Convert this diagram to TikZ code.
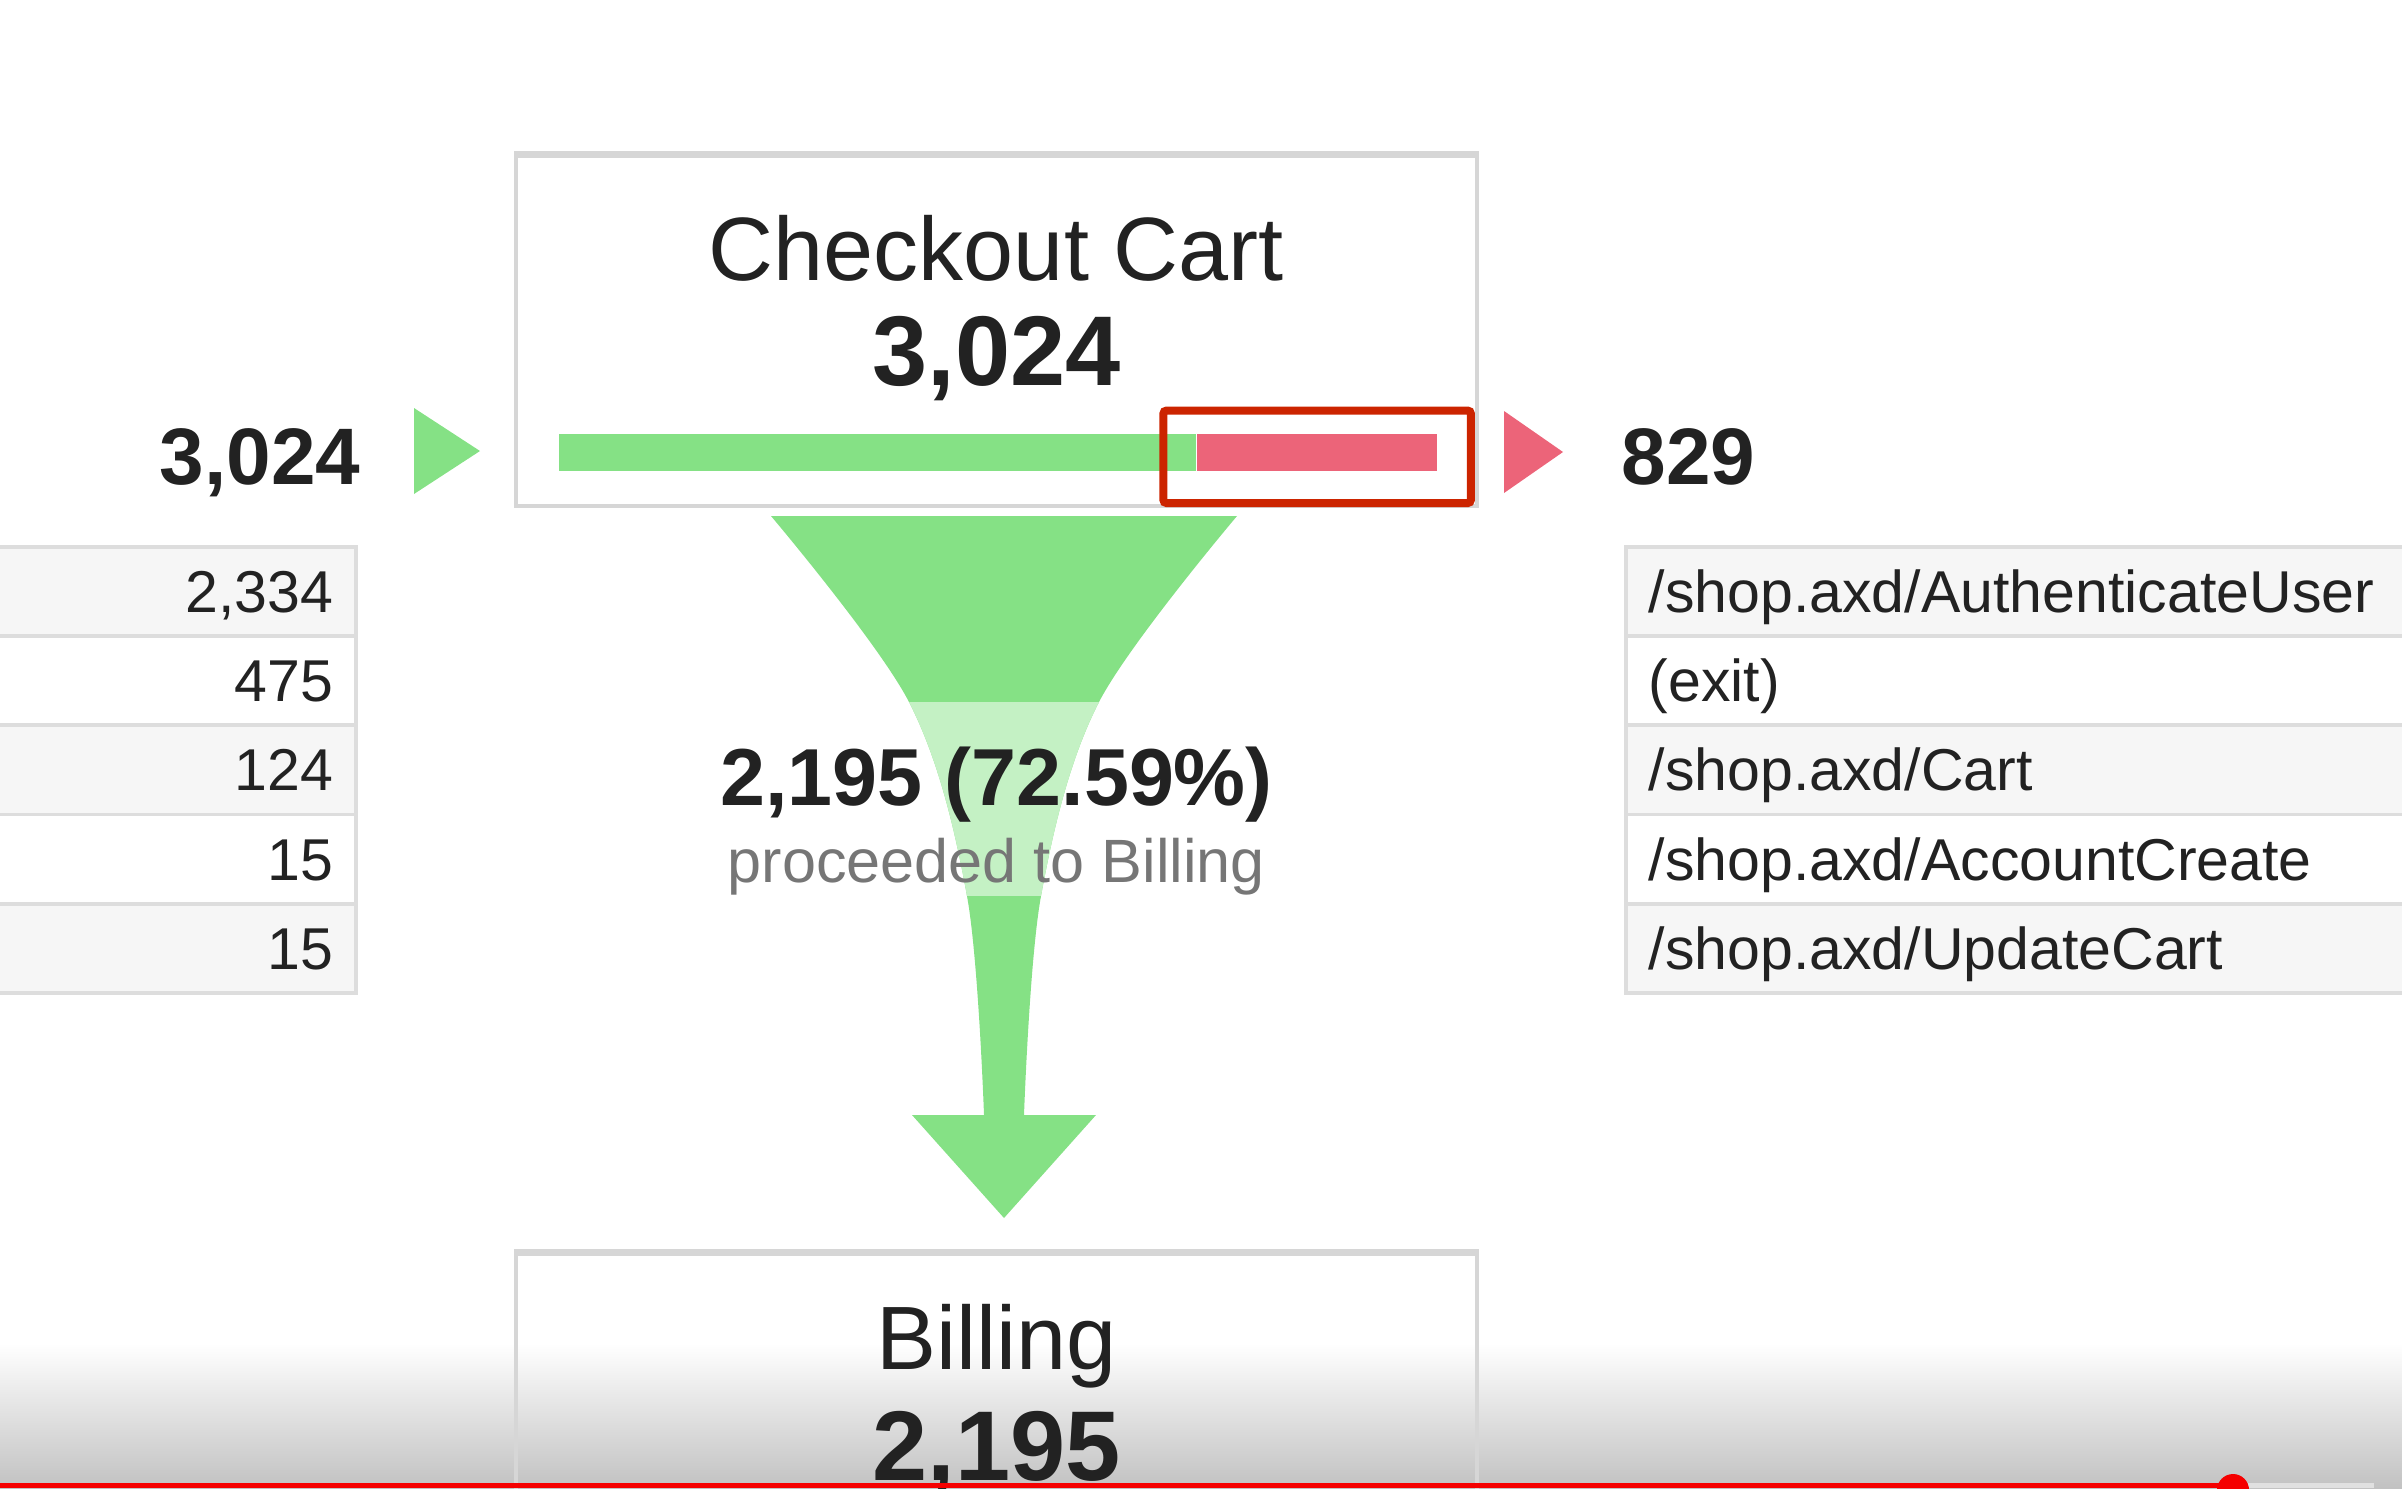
\documentclass[tikz,border=0pt]{standalone}
\usepackage{fontspec}
\setmainfont{Liberation Sans}
\usepackage{tikz}
\usetikzlibrary{calc}
\usetikzlibrary{positioning}

\definecolor{fgreen}{RGB}{133,225,133}
\definecolor{fgreenl}{RGB}{196,241,196}
\definecolor{fred}{RGB}{236,100,121}
\definecolor{hlred}{RGB}{204,36,0}
\definecolor{boxgray}{RGB}{214,214,214}
\definecolor{linegray}{RGB}{221,221,221}
\definecolor{rowgray}{RGB}{246,246,246}
\definecolor{txtdark}{RGB}{34,34,34}
\definecolor{txtgray}{RGB}{118,118,118}
\definecolor{ytred}{RGB}{245,0,0}

\begin{document}
\begin{tikzpicture}[
  boxn/.style={draw=boxgray, line width=1pt, inner sep=0pt},
  barn/.style={minimum height=0.37cm, inner sep=0pt, anchor=south west},
  rown/.style={draw=linegray, line width=1.1pt, minimum height=0.892cm, inner sep=0pt},
  celln/.style={text=txtdark, font=\fontsize{16.8}{20}\selectfont, inner sep=0pt},
  bign/.style={text=txtdark, font=\fontsize{22.8}{26}\selectfont\bfseries, inner sep=0pt},
  titlen/.style={text=txtdark, font=\fontsize{25.6}{30}\selectfont, inner sep=0pt, anchor=base},
  countn/.style={text=txtdark, font=\fontsize{28.2}{32}\selectfont\bfseries, inner sep=0pt, anchor=base}]

  \useasboundingbox (0,0) rectangle (24.02,14.88);
  % player shade at the bottom
  \shade[top color=white, bottom color=black!24] (0,0) rectangle (24.02,1.45);

  % the two steps
  \node[boxn, minimum width=9.61cm, minimum height=3.50cm] (cart) at (9.965,11.57) {};
  \node[boxn, minimum width=9.61cm, minimum height=3.0cm, anchor=north] (billing) at (9.965,2.36) {};
  \draw[boxgray, line width=2pt] (cart.north west) -- (cart.north east);
  \draw[boxgray, line width=2pt] (billing.north west) -- (billing.north east);
  \node[titlen] (cartt) at (9.965,12.08) {Checkout Cart};
  \node[countn] (cartn) at (9.965,11.03) {3,024};
  \node[titlen] (billt) at (9.965,1.19) {Billing};
  \node[countn] (billn) at (9.965,0.08) {2,195};

  % in / out bar
  \node[barn, fill=fgreen, minimum width=6.37cm] (gbar) at (5.58,10.16) {};
  \node[barn, fill=fred, minimum width=2.40cm, right=0pt of gbar] (rbar) {};
  \draw[hlred, line width=0.08cm, rounded corners=0.03cm]
    ($(rbar.south west)+(-0.33,-0.31)$) rectangle ($(rbar.north east)+(0.33,0.23)$);

  \fill[fgreen] (4.14,10.80) -- (4.80,10.37) -- (4.14,9.94) -- cycle;
  \fill[fred] (15.04,10.77) -- (15.63,10.36) -- (15.04,9.95) -- cycle;
  \node[bign, anchor=base east] (inn) at (3.61,10.04) {3,024};
  \node[bign, anchor=base west] (outn) at (16.21,10.04) {829};

  % entrances and exits
  \foreach \v [count=\i] in {{2,334},475,124,15,15}{
    \ifodd\i\def\rf{rowgray}\else\def\rf{white}\fi
    \node[rown, fill=\rf, minimum width=3.9cm, anchor=north east] (l\i) at (3.58,{9.43-(\i-1)*0.892}) {};
    \node[celln, anchor=base east] (lv\i) at ($(l\i.east)+(-0.24,-0.21)$) {\v};
  }
  \foreach \t [count=\i] in {/shop.axd/AuthenticateUser,(exit),/shop.axd/Cart,/shop.axd/AccountCreate,/shop.axd/UpdateCart}{
    \ifodd\i\def\rf{rowgray}\else\def\rf{white}\fi
    \node[rown, fill=\rf, minimum width=8.2cm, anchor=north west] (r\i) at (16.24,{9.43-(\i-1)*0.892}) {};
    \node[celln, anchor=base west] (rv\i) at ($(r\i.west)+(0.24,-0.21)$) {\t};
  }

  % funnel down to billing
  \begin{scope}
    \path[clip, preaction={fill=fgreen}]
      plot[smooth, tension=0.55] coordinates {(7.71,9.72) (9.09,7.86) (9.67,5.92) (9.84,3.73)}
      -- (9.12,3.73) -- (10.04,2.70) -- (10.96,3.73) -- (10.24,3.73)
      -- plot[smooth, tension=0.55] coordinates {(10.24,3.73) (10.41,5.92) (10.99,7.86) (12.37,9.72)}
      -- cycle;
    \fill[fgreenl] (7,5.92) rectangle (13,7.86);
  \end{scope}
  \node[anchor=base, text=txtdark, font=\fontsize{23}{27}\selectfont\bfseries, inner sep=0pt] (prc) at (9.965,6.83) {2,195 (72.59\%)};
  \node[anchor=base, text=txtgray, font=\fontsize{17.4}{20}\selectfont, inner sep=0pt] (prct) at (9.965,6.06) {proceeded to Billing};

  % progress line
  \fill[black!12] (22.48,0) rectangle (23.74,0.05);
  \fill[ytred] (0,0) rectangle (22.33,0.05);
  \fill[ytred] (22.33,-0.02) circle (0.16);
\end{tikzpicture}
\end{document}
